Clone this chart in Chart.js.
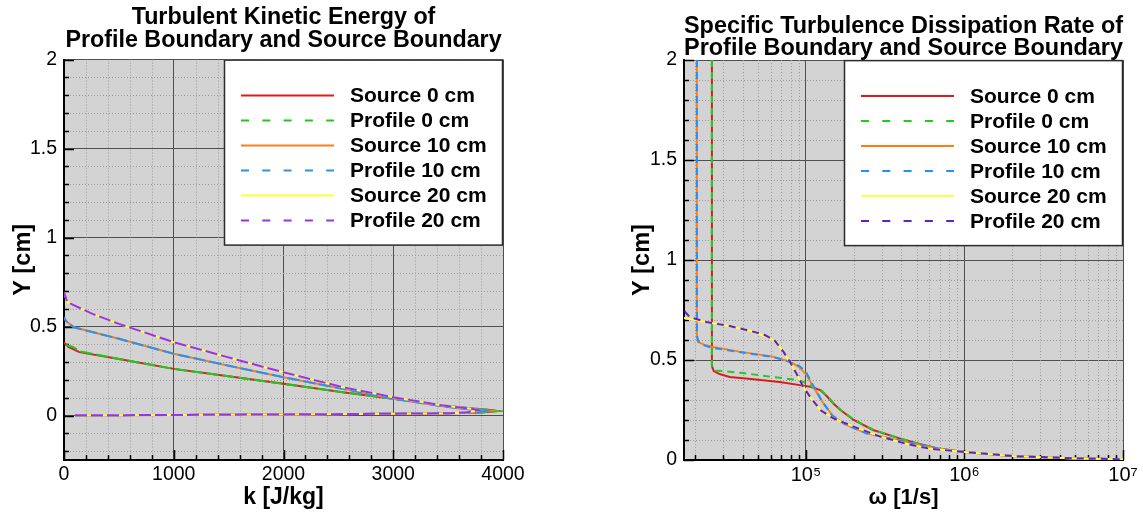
<!DOCTYPE html>
<html>
<head>
<meta charset="utf-8">
<title>k and omega profiles</title>
<script src="https://cdn.jsdelivr.net/npm/chart.js@4.4.1/dist/chart.umd.min.js"></script>
<style>
  body { margin: 0; background: #fff; }
  #wrap { position: relative; width: 1143px; height: 514px; }
  canvas { position: absolute; top: 0; }
</style>
</head>
<body>
<div id="wrap">
  <canvas id="kChart" width="540" height="514" style="left:0"></canvas>
  <canvas id="omegaChart" width="563" height="514" style="left:580px"></canvas>
</div>
<script>
const legendLabels = ['Source 0 cm', 'Profile 0 cm', 'Source 10 cm', 'Profile 10 cm', 'Source 20 cm', 'Profile 20 cm'];

// ---- k [J/kg] vs Y [cm] ----
// near-wall part, same for every case
const kWall = [100, 1000, 2000, 3000, 3500];
const yWall = [0.001, 0.003, 0.006, 0.010, 0.013];

const kSrc0 = [3800, 3950, 3880, 3700, 3455, 3000, 2540, 2000, 1500, 1000, 500, 140, 40, 0];
const ySrc0 = [0.017, 0.025, 0.031, 0.041, 0.056, 0.094, 0.131, 0.178, 0.220, 0.262, 0.318, 0.356, 0.385, 0.410];
const kPro0 = [3800, 3950, 3880, 3700, 3455, 3000, 2540, 2000, 1500, 1000, 500, 150, 80, 0];
const yPro0 = [0.017, 0.025, 0.031, 0.041, 0.056, 0.094, 0.131, 0.178, 0.220, 0.262, 0.318, 0.360, 0.385, 0.400];
const kSrc10 = [3750, 3880, 3800, 3600, 3450, 3000, 2540, 2000, 1500, 1000, 500, 90, 20, 0];
const ySrc10 = [0.017, 0.027, 0.031, 0.040, 0.052, 0.094, 0.150, 0.215, 0.280, 0.347, 0.431, 0.496, 0.530, 0.550];
const kPro10 = [3750, 3880, 3800, 3600, 3450, 3000, 2540, 2000, 1500, 1000, 500, 90, 20, 0];
const yPro10 = [0.017, 0.027, 0.031, 0.040, 0.052, 0.094, 0.150, 0.215, 0.280, 0.347, 0.431, 0.496, 0.530, 0.552];
const kSrc20 = [3650, 3780, 3729, 3455, 3000, 2540, 2000, 1600, 1000, 500, 260, 30, 0];
const ySrc20 = [0.016, 0.030, 0.037, 0.056, 0.103, 0.159, 0.243, 0.309, 0.412, 0.515, 0.571, 0.637, 0.693];
const kPro20 = [3650, 3780, 3729, 3455, 3000, 2540, 2000, 1600, 1000, 500, 260, 30, 0];
const yPro20 = [0.016, 0.030, 0.037, 0.056, 0.103, 0.159, 0.243, 0.309, 0.412, 0.515, 0.571, 0.637, 0.693];

const kTicks = [0, 1000, 2000, 3000, 4000];
const yTicksK = [0, 0.5, 1, 1.5, 2];

// ---- omega [1/s] vs Y [cm] ----
const wSrc0 = [25500, 25500, 26200, 28500, 33000, 45000, 68000, 96000, 108000, 123000, 135000, 150000, 165000, 200000, 265000, 390000, 520000, 680000, 1000000, 2000000, 5000000, 10000000];
const ySrc0w = [2.0, 0.47, 0.445, 0.43, 0.415, 0.405, 0.39, 0.372, 0.365, 0.35, 0.32, 0.28, 0.25, 0.2, 0.15, 0.108, 0.08, 0.058, 0.04, 0.02, 0.008, 0.004];
const wPro0 = [25500, 25500, 26500, 30000, 40000, 62000, 90000, 100000, 110000, 125000, 136000, 151000, 166000, 202000, 268000, 390000, 520000, 680000, 1000000, 2000000, 5000000, 10000000];
const yPro0w = [2.0, 0.47, 0.447, 0.445, 0.435, 0.415, 0.40, 0.385, 0.365, 0.348, 0.32, 0.28, 0.25, 0.2, 0.15, 0.108, 0.08, 0.058, 0.04, 0.02, 0.008, 0.004];
const wSrc10 = [20500, 20500, 21000, 23000, 26000, 38000, 62000, 75000, 83000, 91000, 101000, 111000, 129000, 149000, 181000, 242000, 393000, 520000, 680000, 1000000, 2000000, 5000000, 10000000];
const ySrc10w = [2.0, 0.62, 0.59, 0.575, 0.565, 0.542, 0.517, 0.497, 0.483, 0.463, 0.425, 0.367, 0.283, 0.217, 0.175, 0.133, 0.097, 0.075, 0.056, 0.04, 0.02, 0.008, 0.004];
const wPro10 = [20500, 20500, 21000, 23000, 26000, 38000, 62000, 75000, 83000, 91000, 100000, 108000, 125000, 145000, 175000, 240000, 393000, 520000, 680000, 1000000, 2000000, 5000000, 10000000];
const yPro10w = [2.0, 0.62, 0.59, 0.572, 0.56, 0.54, 0.515, 0.497, 0.483, 0.47, 0.44, 0.39, 0.30, 0.225, 0.18, 0.133, 0.097, 0.075, 0.056, 0.04, 0.02, 0.008, 0.004];
const wSrc20 = [16000, 17000, 30000, 45000, 59000, 66000, 72000, 79000, 87000, 96000, 106000, 123000, 149000, 200000, 294000, 434000, 600000, 1000000, 2000000, 5000000, 10000000];
const ySrc20w = [0.72, 0.71, 0.675, 0.645, 0.61, 0.585, 0.54, 0.49, 0.433, 0.367, 0.317, 0.25, 0.208, 0.167, 0.117, 0.08, 0.057, 0.04, 0.02, 0.008, 0.004];
const wPro20 = [16000, 17000, 17500, 18500, 23500, 33000, 45000, 55000, 63000, 72000, 79000, 87000, 96000, 106000, 123000, 149000, 200000, 294000, 434000, 600000, 1000000, 2000000, 5000000, 10000000];
const yPro20w = [0.80, 0.75, 0.735, 0.715, 0.69, 0.67, 0.645, 0.625, 0.60, 0.542, 0.492, 0.433, 0.367, 0.317, 0.25, 0.208, 0.167, 0.117, 0.08, 0.057, 0.04, 0.02, 0.008, 0.004];

const wTicks = [100000, 1000000, 10000000];
const wTickLabels = ['10\u2075', '10\u2076', '10\u2077'];
const yTicksW = [0, 0.5, 1, 1.5, 2];

const colorsK = ['#d81e1e', '#1ec81e', '#f28022', '#2a92ee', '#ffff3a', '#9a30f5'];
const colorsW = ['#dc1c1c', '#1ecd1e', '#ff7f12', '#1e90ff', '#ffff44', '#6420c4'];
const isDashed = [false, true, false, true, false, true];

const FONT = "'Liberation Sans', Arial, Helvetica, sans-serif";
Chart.defaults.font.family = FONT;
Chart.defaults.color = '#000';

function makeDatasets(xs, ys, colors, dash) {
    return legendLabels.map((label, i) => ({
        label,
        data: xs[i].map((x, j) => ({ x, y: ys[i][j] })),
        borderColor: colors[i],
        backgroundColor: colors[i],
        borderWidth: 2,
        borderDash: isDashed[i] ? dash : [],
        showLine: true,
        pointRadius: 0,
        tension: 0,
        order: -i   // later series drawn on top, like the original
    }));
}

const plotBg = {
    id: 'plotBg',
    beforeDraw(chart) {
        const { ctx, chartArea: a } = chart;
        ctx.save();
        ctx.fillStyle = '#d3d3d3';
        ctx.fillRect(a.left, a.top, a.width, a.height);
        ctx.restore();
    }
};

// dotted minor grid and inward tick marks
const minorGrid = {
    id: 'minorGrid',
    beforeDatasetsDraw(chart, args, opts) {
        const { ctx, chartArea: a, scales } = chart;
        const sx = scales.x, sy = scales.y;
        ctx.save();
        ctx.strokeStyle = '#9c9c9c';
        ctx.lineWidth = 1;
        ctx.setLineDash([1, 2]);
        ctx.beginPath();
        opts.x.forEach(v => {
            const px = Math.round(sx.getPixelForValue(v)) + 0.5;
            ctx.moveTo(px, a.top); ctx.lineTo(px, a.bottom);
        });
        opts.y.forEach(v => {
            const py = Math.round(sy.getPixelForValue(v)) + 0.5;
            ctx.moveTo(a.left, py); ctx.lineTo(a.right, py);
        });
        ctx.stroke();
        ctx.setLineDash([]);
        ctx.strokeStyle = '#000';
        ctx.lineWidth = 1.5;
        ctx.beginPath();
        opts.x.forEach(v => {
            const px = Math.round(sx.getPixelForValue(v)) + 0.5;
            ctx.moveTo(px, a.bottom); ctx.lineTo(px, a.bottom - 5);
        });
        sx.ticks.forEach(t => {
            const px = Math.round(sx.getPixelForValue(t.value)) + 0.5;
            ctx.moveTo(px, a.bottom); ctx.lineTo(px, a.bottom - 10);
        });
        opts.y.forEach(v => {
            const py = Math.round(sy.getPixelForValue(v)) + 0.5;
            ctx.moveTo(a.left, py); ctx.lineTo(a.left + 5, py);
        });
        sy.ticks.forEach(t => {
            const py = Math.round(sy.getPixelForValue(t.value)) + 0.5;
            ctx.moveTo(a.left, py); ctx.lineTo(a.left + 10, py);
        });
        ctx.stroke();
        ctx.restore();
    }
};

// boxed legend in the top right corner of the plot
const boxLegend = {
    id: 'boxLegend',
    afterDatasetsDraw(chart) {
        const { ctx, chartArea: a } = chart;
        const w = 279, h = 186;
        const x0 = a.right - w, y0 = a.top;
        ctx.save();
        ctx.fillStyle = '#fff';
        ctx.fillRect(x0, y0, w, h);
        ctx.strokeStyle = '#2a2a2a';
        ctx.lineWidth = 1.5;
        ctx.strokeRect(x0 + 0.5, y0 + 0.5, w - 1, h - 1);
        ctx.font = 'bold 21px ' + FONT;
        ctx.textBaseline = 'middle';
        chart.data.datasets.forEach((ds, i) => {
            const y = y0 + 36 + i * 25;
            ctx.strokeStyle = ds.borderColor;
            ctx.lineWidth = 2;
            ctx.setLineDash(ds.borderDash.length ? [8, 13.3] : []);
            ctx.beginPath();
            ctx.moveTo(x0 + 17, y);
            ctx.lineTo(x0 + 110, y);
            ctx.stroke();
            ctx.fillStyle = '#000';
            ctx.fillText(ds.label, x0 + 126, y + 1);
        });
        ctx.restore();
    }
};

function minorSteps(from, to, step, majorEvery) {
    const out = [];
    for (let i = Math.round(from / step); i * step <= to + 1e-9; i++) {
        if (i % majorEvery !== 0) out.push(+(i * step).toFixed(6));
    }
    return out;
}

function logMinor(min, max) {
    const out = [];
    for (let d = 4; d < 7; d++) {
        for (let m = 2; m < 10; m++) {
            const v = m * Math.pow(10, d);
            if (v >= min && v <= max) out.push(v);
        }
    }
    return out;
}

function axisTitle(text, size) {
    return { display: true, text, color: '#000', font: { size, weight: 'bold', lineHeight: 1 } };
}

function renderKChart() {
    const ctx = document.getElementById('kChart').getContext('2d');
    new Chart(ctx, {
        type: 'scatter',
        data: {
            datasets: makeDatasets(
                [kSrc0, kPro0, kSrc10, kPro10, kSrc20, kPro20].map(k => kWall.concat(k)),
                [ySrc0, yPro0, ySrc10, yPro10, ySrc20, yPro20].map(y => yWall.concat(y)),
                colorsK, [12, 4])
        },
        options: {
            responsive: false,
            animation: false,
            layout: { padding: { left: 0, right: 37, top: 0, bottom: 0 } },
            plugins: {
                legend: { display: false },
                tooltip: { enabled: false },
                title: {
                    display: true,
                    fullSize: false,
                    text: ['Turbulent Kinetic Energy of', 'Profile Boundary and Source Boundary'],
                    color: '#000',
                    font: { size: 23.3, weight: 'bold', lineHeight: 1 },
                    padding: { top: 6, bottom: 7 }
                },
                minorGrid: { x: minorSteps(0, 4000, 200, 5), y: minorSteps(-0.2, 2, 0.1, 5) }
            },
            scales: {
                x: {
                    type: 'linear', min: 0, max: 4000,
                    afterBuildTicks: s => { s.ticks = kTicks.map(v => ({ value: v })); },
                    afterFit: s => { s.height = 54; },
                    ticks: { font: { size: 19.5 }, color: '#000', padding: 3, maxRotation: 0, callback: v => String(v) },
                    grid: { color: '#505050', lineWidth: 1, drawTicks: false },
                    border: { color: '#000', width: 2 },
                    title: Object.assign(axisTitle('k [J/kg]', 23), { padding: { top: 0, bottom: 5 } })
                },
                y: {
                    type: 'linear', min: -0.25, max: 2,
                    afterBuildTicks: s => { s.ticks = yTicksK.map(v => ({ value: v })); },
                    afterFit: s => { s.width = 64; },
                    ticks: { font: { size: 19.5 }, color: '#000', padding: 7, callback: v => String(v) },
                    grid: { color: '#505050', lineWidth: 1, drawTicks: false },
                    border: { color: '#000', width: 2 },
                    title: Object.assign(axisTitle('Y [cm]', 23.5), { padding: { top: 12, bottom: 0 } })
                }
            }
        },
        plugins: [plotBg, minorGrid, boxLegend]
    });
}

function renderOmegaChart() {
    const ctx = document.getElementById('omegaChart').getContext('2d');
    new Chart(ctx, {
        type: 'scatter',
        data: {
            datasets: makeDatasets(
                [wSrc0, wPro0, wSrc10, wPro10, wSrc20, wPro20],
                [ySrc0w, yPro0w, ySrc10w, yPro10w, ySrc20w, yPro20w],
                colorsW, [7, 5])
        },
        options: {
            responsive: false,
            animation: false,
            layout: { padding: { left: 0, right: 20, top: 0, bottom: 0 } },
            plugins: {
                legend: { display: false },
                tooltip: { enabled: false },
                title: {
                    display: true,
                    fullSize: false,
                    text: ['Specific Turbulence Dissipation Rate of', 'Profile Boundary and Source Boundary'],
                    color: '#000',
                    font: { size: 23.5, weight: 'bold', lineHeight: 0.96 },
                    padding: { top: 15, bottom: 0 }
                },
                minorGrid: { x: logMinor(17000, 1e7), y: minorSteps(0, 2, 0.1, 5) }
            },
            scales: {
                x: {
                    type: 'logarithmic', min: 17000, max: 1e7,
                    afterBuildTicks: s => { s.ticks = wTicks.map(v => ({ value: v })); },
                    afterFit: s => { s.height = 54; },
                    ticks: {
                        font: { size: 20 }, color: '#000', padding: 3, maxRotation: 0, autoSkip: false,
                        callback: v => wTickLabels[wTicks.indexOf(v)]
                    },
                    grid: { color: '#505050', lineWidth: 1, drawTicks: false },
                    border: { color: '#000', width: 2 },
                    title: Object.assign(axisTitle('\u03c9 [1/s]', 22), { padding: { top: 0, bottom: 5 } })
                },
                y: {
                    type: 'linear', min: 0, max: 2,
                    afterBuildTicks: s => { s.ticks = yTicksW.map(v => ({ value: v })); },
                    afterFit: s => { s.width = 104; },
                    ticks: { font: { size: 19.5 }, color: '#000', padding: 7, callback: v => String(v) },
                    grid: { color: '#505050', lineWidth: 1, drawTicks: false },
                    border: { color: '#000', width: 2 },
                    title: Object.assign(axisTitle('Y [cm]', 23.5), { padding: { top: 51, bottom: 0 } })
                }
            }
        },
        plugins: [plotBg, minorGrid, boxLegend]
    });
}

renderKChart();
renderOmegaChart();
</script>
</body>
</html>
